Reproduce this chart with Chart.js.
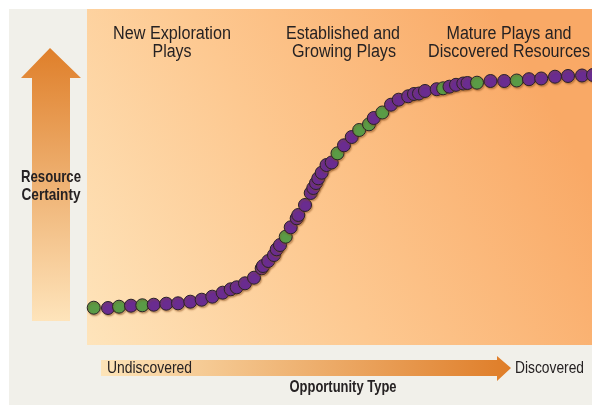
<!DOCTYPE html>
<html lang="en">
<head>
  <meta charset="UTF-8" />
  <title>Resource Certainty vs Opportunity Type</title>
  <script src="https://cdn.jsdelivr.net/npm/chart.js"></script>
  <style>
    body { margin: 0; background: #fff; }
    #wrap { width: 592px; height: 405px; }
  </style>
</head>
<body>
  <div id="wrap"><canvas id="chartCurva" width="592" height="405"></canvas></div>
  <script>
    // Opportunity type (0 = undiscovered, 100 = discovered)
    const opportunity = [
      1.33, 4.16, 6.34, 8.71, 10.95, 13.21, 15.70, 18.02, 20.46, 22.71,
      24.81, 26.87, 28.46, 29.64, 31.29, 33.07, 34.59, 34.85, 35.90, 37.03,
      37.56, 38.22, 39.35, 40.34, 41.52, 41.84, 43.17, 44.30, 44.81, 45.35,
      45.80, 46.48, 47.43, 48.46, 49.60, 50.89, 52.42, 53.90, 55.84, 56.79,
      58.48, 60.20, 61.72, 63.60, 64.75, 65.74, 66.93, 69.25, 70.53, 71.78,
      73.07, 74.51, 75.35, 77.23, 79.90, 82.61, 85.09, 87.52, 89.94, 92.67,
      95.25, 98.02, 100.2
    ];
    // Resource certainty (0 = low, 100 = high)
    const certainty = [
      11.10, 11.01, 11.40, 11.70, 11.82, 11.99, 12.29, 12.41, 12.89, 13.48,
      14.38, 15.57, 16.58, 17.17, 18.36, 20.03, 22.83, 23.51, 25.00, 26.79,
      28.48, 29.76, 32.23, 35.03, 37.71, 38.69, 41.67, 45.24, 46.73, 48.21,
      49.61, 51.28, 53.57, 54.32, 57.05, 59.43, 61.90, 63.99, 65.68, 67.56,
      69.20, 71.52, 73.01, 74.02, 74.70, 74.85, 75.60, 76.13, 76.40, 76.88,
      77.44, 77.83, 77.98, 78.07, 78.57, 78.57, 78.72, 79.11, 79.32, 79.85,
      80.06, 80.21, 80.36
    ];
    // 'g' = green marker, 'p' = purple marker
    const markerType = [
      'g', 'p', 'g', 'p', 'g', 'p', 'p', 'p', 'p', 'p',
      'p', 'p', 'p', 'p', 'p', 'p', 'p', 'p', 'p', 'p',
      'p', 'p', 'g', 'p', 'p', 'p', 'p', 'p', 'p', 'p',
      'p', 'p', 'p', 'p', 'g', 'p', 'p', 'g', 'g', 'p',
      'g', 'p', 'p', 'p', 'p', 'p', 'p', 'p', 'g', 'p',
      'p', 'p', 'p', 'g', 'p', 'p', 'g', 'p', 'p', 'p',
      'p', 'p', 'p'
    ];
    const stageLabels = [
      ['New Exploration', 'Plays'],
      ['Established and', 'Growing Plays'],
      ['Mature Plays and', 'Discovered Resources']
    ];

    const FONT = '"Liberation Sans", Arial, sans-serif';
    const cores = { p: '#6a2c90', g: '#5a9b46' };

    // texto "condensado": mede e espreme na horizontal até a largura dada
    function textoEstreito(ctx, txt, cx, y, largura) {
      const w = ctx.measureText(txt).width;
      const k = Math.min(1, largura / w);
      ctx.save();
      ctx.translate(cx, y);
      ctx.scale(k, 1);
      ctx.textAlign = 'center';
      ctx.fillText(txt, 0, 0);
      ctx.restore();
    }

    // Fundo, setas e textos
    const fundoPlugin = {
      id: 'fundo',
      beforeDraw(chart) {
        const ctx = chart.ctx;
        const a = chart.chartArea;
        ctx.save();
        ctx.fillStyle = '#ffffff';
        ctx.fillRect(0, 0, chart.width, chart.height);
        ctx.fillStyle = '#f1f0ea';
        ctx.fillRect(9, 9, chart.width - 9, chart.height - 9);

        const g = ctx.createLinearGradient(87, 380, 560, 120);
        g.addColorStop(0, '#fee6be');
        g.addColorStop(0.5, '#fdc890');
        g.addColorStop(1, '#f9a966');
        ctx.fillStyle = g;
        ctx.fillRect(a.left, a.top, a.right - a.left, a.bottom - a.top);

        // seta vertical
        const gv = ctx.createLinearGradient(0, 48, 0, 321);
        gv.addColorStop(0, '#df7f2a');
        gv.addColorStop(1, '#fee4bb');
        ctx.fillStyle = gv;
        ctx.beginPath();
        ctx.moveTo(50, 48);
        ctx.lineTo(81, 78);
        ctx.lineTo(70, 78);
        ctx.lineTo(70, 321);
        ctx.lineTo(32, 321);
        ctx.lineTo(32, 78);
        ctx.lineTo(21, 78);
        ctx.closePath();
        ctx.fill();

        // seta horizontal
        const gh = ctx.createLinearGradient(101, 0, 511, 0);
        gh.addColorStop(0, '#fde4b8');
        gh.addColorStop(1, '#df7d28');
        ctx.fillStyle = gh;
        ctx.beginPath();
        ctx.moveTo(101, 360);
        ctx.lineTo(497, 360);
        ctx.lineTo(497, 356);
        ctx.lineTo(511, 368);
        ctx.lineTo(497, 381);
        ctx.lineTo(497, 376);
        ctx.lineTo(101, 376);
        ctx.closePath();
        ctx.fill();

        ctx.fillStyle = '#262223';
        ctx.textBaseline = 'middle';
        ctx.font = '18px ' + FONT;
        textoEstreito(ctx, stageLabels[0][0], 172, 34, 118);
        textoEstreito(ctx, stageLabels[0][1], 172, 52.5, 39);
        textoEstreito(ctx, stageLabels[1][0], 343, 34, 114);
        textoEstreito(ctx, stageLabels[1][1], 344, 52.5, 104);
        textoEstreito(ctx, stageLabels[2][0], 509, 34, 125);
        textoEstreito(ctx, stageLabels[2][1], 509, 52.5, 162);

        ctx.font = 'bold 17px ' + FONT;
        textoEstreito(ctx, 'Resource', 51, 177, 60);
        textoEstreito(ctx, 'Certainty', 51, 195.5, 59);
        textoEstreito(ctx, 'Opportunity Type', 343, 387, 107);

        ctx.font = '17px ' + FONT;
        textoEstreito(ctx, 'Undiscovered', 149.5, 368, 85);
        textoEstreito(ctx, 'Discovered', 549.5, 368, 69);
        ctx.restore();
      },
      // leve sombra atrás dos pontos, como no original
      beforeDatasetsDraw(chart) {
        const ctx = chart.ctx;
        ctx.save();
        ctx.shadowColor = 'rgba(140, 80, 30, 0.45)';
        ctx.shadowOffsetX = 1;
        ctx.shadowOffsetY = 1.5;
        ctx.shadowBlur = 1.5;
      },
      afterDatasetsDraw(chart) {
        chart.ctx.restore();
      }
    };

    const pontos = opportunity.map((x, i) => ({ x, y: certainty[i] }));

    new Chart(document.getElementById('chartCurva'), {
      type: 'scatter',
      data: {
        datasets: [{
          label: 'Opportunities',
          data: pontos,
          backgroundColor: markerType.map(t => cores[t]),
          borderColor: '#2a2228',
          borderWidth: 1,
          pointRadius: 6.5,
          clip: false
        }]
      },
      options: {
        responsive: false,
        animation: false,
        layout: { autoPadding: false, padding: { left: 87, right: 0, top: 9, bottom: 60 } },
        scales: {
          x: { display: false, min: 0, max: 100 },
          y: { display: false, min: 0, max: 100 }
        },
        plugins: {
          legend: { display: false },
          tooltip: { enabled: false }
        }
      },
      plugins: [fundoPlugin]
    });
  </script>
</body>
</html>
